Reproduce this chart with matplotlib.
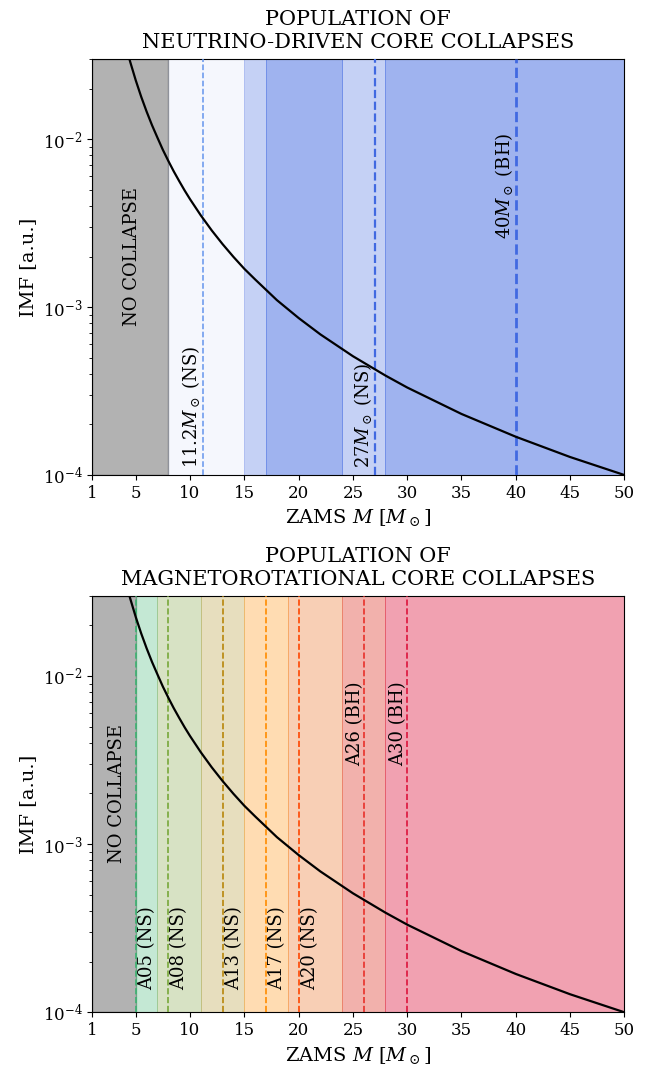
#!/usr/bin/env python3
"""Plot the IMF over the two populations of core collapse models."""

import matplotlib
matplotlib.use("Agg")
from matplotlib import pyplot as plt

plt.rcParams["font.family"] = "DejaVu Serif"
plt.rcParams["mathtext.fontset"] = "dejavuserif"

# IMF curve (ZAMS mass, IMF in a.u.)
imf_mass = [4.3, 4.5, 5, 5.5, 6, 6.5, 7, 7.5, 8, 8.5, 9, 9.5, 10, 11, 12,
            13, 14, 15, 16, 18, 20, 22, 25, 28, 30, 35, 40, 45, 50]
imf_value = [3.19e-2, 2.87e-2, 2.24e-2, 1.79e-2, 1.46e-2, 1.21e-2, 1.02e-2,
             8.63e-3, 7.42e-3, 6.43e-3, 5.63e-3, 4.95e-3, 4.39e-3, 3.51e-3,
             2.86e-3, 2.37e-3, 1.99e-3, 1.69e-3, 1.46e-3, 1.10e-3, 8.61e-4,
             6.88e-4, 5.10e-4, 3.91e-4, 3.32e-4, 2.31e-4, 1.69e-4, 1.28e-4,
             1.00e-4]

# neutrino-driven population
nu_bands = [(8, 15), (15, 17), (17, 24), (24, 28), (28, 50)]
nu_band_alpha = [0.05, 0.3, 0.5, 0.3, 0.5]
nu_models = [11.2, 27, 40]
nu_labels = [r"11.2$M_\odot$ (NS)", r"27$M_\odot$ (NS)", r"40$M_\odot$ (BH)"]
nu_line_width = [1.1, 1.6, 2.0]
nu_line_colors = ["cornflowerblue", "royalblue", "royalblue"]
nu_no_collapse = 8

# magnetorotational population
mr_bands = [(5, 7), (7, 11), (11, 15), (15, 19), (19, 24), (24, 28), (28, 50)]
mr_band_colors = ["mediumseagreen", "#7da23e", "#b2942a", "darkorange",
                  "#eb620c", "#e03c30", "crimson"]
mr_band_alpha = [0.3, 0.3, 0.3, 0.3, 0.3, 0.4, 0.4]
mr_models = [5, 8, 13, 17, 20, 26, 30]
mr_labels = ["A05 (NS)", "A08 (NS)", "A13 (NS)", "A17 (NS)", "A20 (NS)",
             "A26 (BH)", "A30 (BH)"]
mr_line_colors = ["mediumseagreen", "#78a83a", "darkgoldenrod", "darkorange",
                  "orangered", "#e8302a", "crimson"]
mr_no_collapse = 5

XTICKS = [1, 5, 10, 15, 20, 25, 30, 35, 40, 45, 50]
YLIM = (1e-4, 3e-2)


def setup_axes(ax, title):
    ax.set_yscale("log")
    ax.set_xlim(1, 50)
    ax.set_ylim(*YLIM)
    ax.set_xticks(XTICKS)
    ax.tick_params(labelsize=12)
    ax.set_title(title, fontsize=15, linespacing=1.25, pad=8)
    ax.set_xlabel(r"ZAMS $M$ [$M_\odot$]", fontsize=14)
    ax.set_ylabel("IMF [a.u.]", fontsize=14)
    ax.plot(imf_mass, imf_value, color="k", lw=1.6, zorder=5)


def main():
    fig = plt.figure(figsize=(6.47, 10.66), dpi=100)
    ax1 = fig.add_axes([0.1427, 0.5544, 0.8223, 0.3902])
    ax2 = fig.add_axes([0.1427, 0.0504, 0.8223, 0.3908])

    # --- top: neutrino-driven
    setup_axes(ax1, "POPULATION OF\nNEUTRINO-DRIVEN CORE COLLAPSES")
    ax1.axvspan(1, nu_no_collapse, color="k", alpha=0.3, lw=1)
    for (lo, hi), a in zip(nu_bands, nu_band_alpha):
        ax1.axvspan(lo, hi, color="royalblue", alpha=a, lw=0.6)
    for m, lab, lw, c in zip(nu_models, nu_labels, nu_line_width, nu_line_colors):
        ax1.axvline(m, color=c, ls="--", lw=lw, zorder=3)
        if "BH" in lab:
            ax1.text(m - 0.1, 1.1e-2, lab, rotation=90, ha="right", va="top",
                     fontsize=13)
        else:
            ax1.text(m - 0.1, 1.1e-4, lab, rotation=90, ha="right",
                     va="bottom", fontsize=13)
    ax1.text(4.65, 2e-3, "NO COLLAPSE", rotation=90, ha="center",
             va="center", fontsize=13)

    # --- bottom: magnetorotational
    setup_axes(ax2, "POPULATION OF\nMAGNETOROTATIONAL CORE COLLAPSES")
    ax2.axvspan(1, mr_no_collapse, color="k", alpha=0.3, lw=1)
    for (lo, hi), c, a in zip(mr_bands, mr_band_colors, mr_band_alpha):
        ax2.axvspan(lo, hi, color=c, alpha=a, lw=0.6)
    for m, lab, c in zip(mr_models, mr_labels, mr_line_colors):
        ax2.axvline(m, color=c, ls="--", lw=1.2, zorder=3)
        if "BH" in lab:
            ax2.text(m, 9.3e-3, lab, rotation=90, ha="right", va="top",
                     fontsize=13)
        else:
            ax2.text(m + 0.2, 1.35e-4, lab, rotation=90, ha="left",
                     va="bottom", fontsize=13)
    ax2.text(3.25, 2e-3, "NO COLLAPSE", rotation=90, ha="center",
             va="center", fontsize=13)

    fig.savefig("out.png", dpi=100)


if __name__ == "__main__":
    main()
